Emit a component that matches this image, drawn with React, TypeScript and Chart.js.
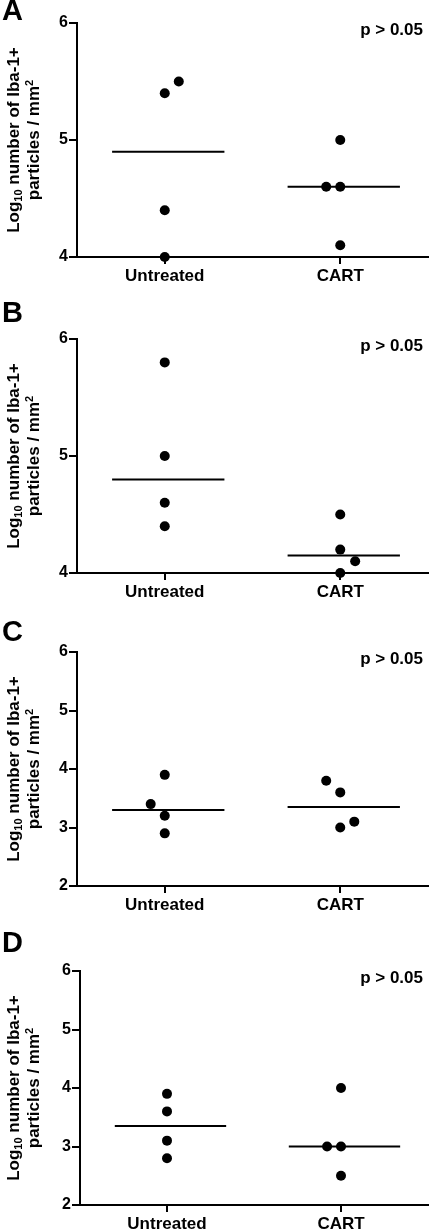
import React, { useEffect, useRef } from 'react';
import { Chart, registerables } from 'chart.js';

Chart.register(...registerables);

// ---------- data ----------
const categories = ['Untreated', 'CART'];
const panelLetters = ['A', 'B', 'C', 'D'];
const pValueLabel = 'p > 0.05';
const yMins = [4, 4, 2, 2];
const yMaxs = [6, 6, 6, 6];

// Panel A
const untreatedA = [5.5, 5.4, 4.4, 4.0];
const untreatedAJitter = [0.08, 0, 0, 0];
const cartA = [5.0, 4.6, 4.6, 4.1];
const cartAJitter = [0, -0.08, 0, 0];
const mediansA = [4.9, 4.6];

// Panel B
const untreatedB = [5.8, 5.0, 4.6, 4.4];
const untreatedBJitter = [0, 0, 0, 0];
const cartB = [4.5, 4.2, 4.1, 4.0];
const cartBJitter = [0, 0, 0.085, 0];
const mediansB = [4.8, 4.15];

// Panel C
const untreatedC = [3.9, 3.4, 3.2, 2.9];
const untreatedCJitter = [0, -0.08, 0, 0];
const cartC = [3.8, 3.6, 3.1, 3.0];
const cartCJitter = [-0.08, 0, 0.08, 0];
const mediansC = [3.3, 3.35];

// Panel D
const untreatedD = [3.9, 3.6, 3.1, 2.8];
const untreatedDJitter = [0, 0, 0, 0];
const cartD = [4.0, 3.0, 3.0, 2.5];
const cartDJitter = [0, -0.08, 0, 0];
const mediansD = [3.35, 3.0];

const untreatedAll = [untreatedA, untreatedB, untreatedC, untreatedD];
const untreatedJitterAll = [untreatedAJitter, untreatedBJitter, untreatedCJitter, untreatedDJitter];
const cartAll = [cartA, cartB, cartC, cartD];
const cartJitterAll = [cartAJitter, cartBJitter, cartCJitter, cartDJitter];
const mediansAll = [mediansA, mediansB, mediansC, mediansD];

// ---------- layout ----------
const W = 433;
const H = 1229;
const PLOT_H = 234;
const PAD_TOP = 20;
const X_AXIS_H = 28;
const plotTops = [23, 339, 652, 971];
const axisLefts = [77, 77, 77, 80];
const letterCapTops = [0, 302, 621, 932];
const FONT = '"Liberation Sans", Arial, Helvetica, sans-serif';

type PanelProps = {
  idx: number;
};

function Panel({ idx }: PanelProps) {
  const ref = useRef<HTMLCanvasElement | null>(null);
  const plotTop = plotTops[idx];
  const canvasTop = plotTop - PAD_TOP;
  const canvasH = PAD_TOP + PLOT_H + X_AXIS_H;
  const axisLeft = axisLefts[idx];

  useEffect(() => {
    if (!ref.current) return;
    const pts = (vals: number[], jit: number[], ci: number) =>
      vals.map((v, i) => ({ x: ci + jit[i], y: v }));
    const medians = mediansAll[idx];
    const chart = new Chart(ref.current, {
      type: 'scatter',
      data: {
        datasets: [
          ...medians.map((m, ci) => ({
            type: 'line' as const,
            data: [
              { x: ci - 0.3, y: m },
              { x: ci + 0.34, y: m },
            ],
            borderColor: '#000',
            borderWidth: 2,
            pointRadius: 0,
            showLine: true,
            fill: false,
            clip: false as any,
          })),
          {
            type: 'scatter' as const,
            data: [
              ...pts(untreatedAll[idx], untreatedJitterAll[idx], 0),
              ...pts(cartAll[idx], cartJitterAll[idx], 1),
            ],
            pointRadius: 5,
            pointHoverRadius: 5,
            pointBackgroundColor: '#000',
            pointBorderColor: '#000',
            pointBorderWidth: 0,
            clip: false as any,
          },
        ],
      },
      options: {
        responsive: false,
        animation: false,
        events: [],
        layout: { padding: { top: PAD_TOP, right: 3, bottom: 0, left: 0 } },
        plugins: {
          legend: { display: false },
          tooltip: { enabled: false },
          title: { display: false },
        },
        scales: {
          x: {
            type: 'linear',
            min: -0.5,
            max: 1.5,
            afterBuildTicks: (s: any) => {
              s.ticks = categories.map((_, i) => ({ value: i }));
            },
            afterFit: (s: any) => {
              s.height = X_AXIS_H;
            },
            ticks: {
              autoSkip: false,
              maxRotation: 0,
              padding: 2,
              color: '#000',
              font: { family: FONT, size: 17, weight: 'bold' },
              callback: (v: any) => categories[v as number] ?? '',
            },
            grid: {
              display: true,
              drawOnChartArea: false,
              drawTicks: true,
              tickLength: 7,
              color: '#000',
              lineWidth: 2,
            },
            border: { display: true, color: '#000', width: 2 },
          },
          y: {
            type: 'linear',
            min: yMins[idx],
            max: yMaxs[idx],
            ticks: {
              stepSize: 1,
              padding: 1,
              color: '#000',
              font: { family: FONT, size: 16, weight: 'bold' },
            },
            afterFit: (s: any) => {
              s.width = axisLeft;
            },
            grid: {
              display: true,
              drawOnChartArea: false,
              drawTicks: true,
              tickLength: 8,
              color: '#000',
              lineWidth: 2,
            },
            border: { display: true, color: '#000', width: 2 },
          },
        },
      } as any,
    });
    return () => chart.destroy();
  }, [idx, axisLeft]);

  return (
    <>
      <canvas
        ref={ref}
        width={W}
        height={canvasH}
        style={{ position: 'absolute', left: 0, top: canvasTop, width: W, height: canvasH }}
      />
      <div
        style={{
          position: 'absolute',
          left: 2,
          top: letterCapTops[idx] - 3.8,
          font: `bold 29px ${FONT}`,
          lineHeight: '29px',
          color: '#000',
        }}
      >
        {panelLetters[idx]}
      </div>
      <div
        style={{
          position: 'absolute',
          right: 10,
          top: plotTop + 7,
          transform: 'translateY(-50%)',
          font: `bold 17px ${FONT}`,
          color: '#000',
          whiteSpace: 'nowrap',
        }}
      >
        {pValueLabel}
      </div>
      <div
        style={{
          position: 'absolute',
          left: 23.5,
          top: plotTop + PLOT_H / 2,
          transform: 'translate(-50%, -50%) rotate(-90deg)',
          textAlign: 'center',
          lineHeight: '23px',
          whiteSpace: 'nowrap',
          font: `bold 17px ${FONT}`,
          color: '#000',
        }}
      >
        Log
        <span style={{ fontSize: '0.65em', position: 'relative', top: '0.3em' }}>10</span> number
        of Iba-1+
        <br />
        particles / mm
        <span style={{ fontSize: '0.65em', position: 'relative', top: '-0.55em' }}>2</span>
      </div>
    </>
  );
}

export default function App() {
  return (
    <div
      style={{
        position: 'fixed',
        left: 0,
        top: 0,
        width: W,
        height: H,
        overflow: 'hidden',
        background: '#fff',
      }}
    >
      {panelLetters.map((_, i) => (
        <Panel key={i} idx={i} />
      ))}
    </div>
  );
}
